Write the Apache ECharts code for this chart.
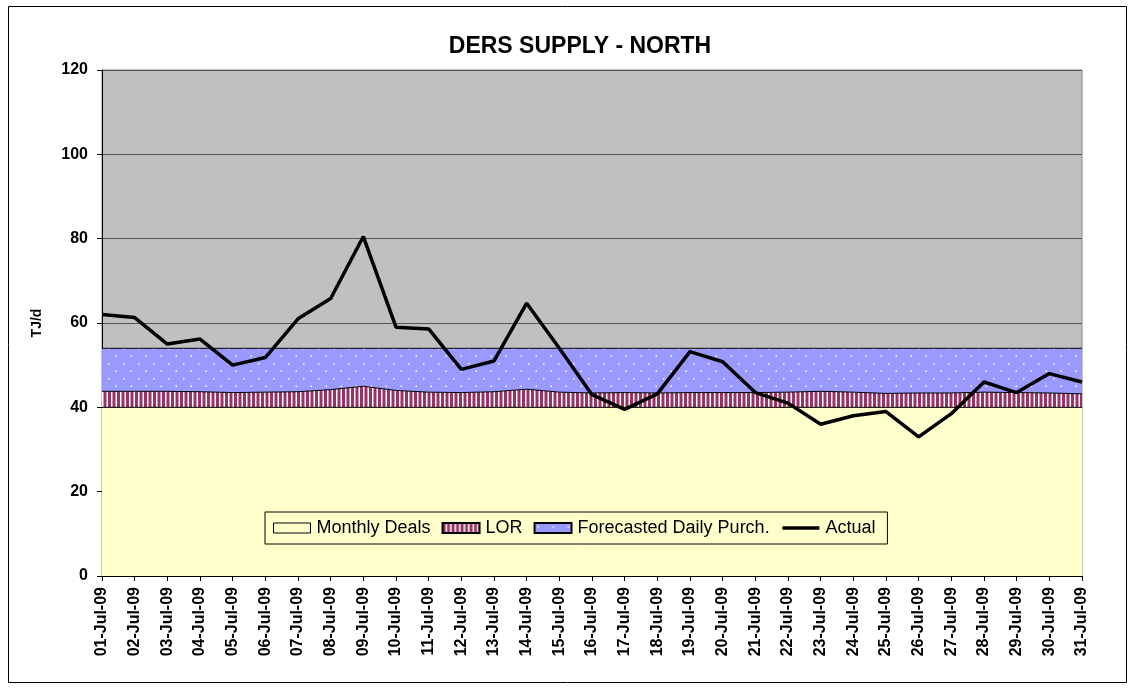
<!DOCTYPE html>
<html>
<head>
<meta charset="utf-8">
<script src="https://cdn.jsdelivr.net/npm/echarts@6/dist/echarts.min.js"></script>
<style>
html, body { margin: 0; padding: 0; background: #fff; }
#main { width: 1135px; height: 690px; }
</style>
</head>
<body>
<div id="main"></div>
<script>
var days = ['01-Jul-09','02-Jul-09','03-Jul-09','04-Jul-09','05-Jul-09','06-Jul-09','07-Jul-09','08-Jul-09',
    '09-Jul-09','10-Jul-09','11-Jul-09','12-Jul-09','13-Jul-09','14-Jul-09','15-Jul-09','16-Jul-09',
    '17-Jul-09','18-Jul-09','19-Jul-09','20-Jul-09','21-Jul-09','22-Jul-09','23-Jul-09','24-Jul-09',
    '25-Jul-09','26-Jul-09','27-Jul-09','28-Jul-09','29-Jul-09','30-Jul-09','31-Jul-09'];
var monthlyDeals = [40,40,40,40,40,40,40,40,40,40,40,40,40,40,40,40,40,40,40,40,40,40,40,40,40,40,40,40,40,40,40];
var lor = [3.8,3.8,3.8,3.7,3.5,3.6,3.7,4.2,5.0,4.0,3.6,3.5,3.7,4.3,3.6,3.4,
    3.5,3.4,3.5,3.5,3.5,3.6,3.8,3.6,3.3,3.4,3.4,3.6,3.5,3.4,3.2];
var forecast = [10.2,10.2,10.2,10.3,10.5,10.4,10.3,9.8,9.0,10.0,10.4,10.5,10.3,9.7,10.4,10.6,
    10.5,10.6,10.5,10.5,10.5,10.4,10.2,10.4,10.7,10.6,10.6,10.4,10.5,10.6,10.8];
var actual = [62,61.3,55,56.2,50,51.8,61,65.8,80.5,59,58.6,49,51,64.7,54,43,
    39.5,43.2,53.2,50.8,43.5,41,36,38,39,33,38.5,46,43.5,48,46];

// stripe pattern for LOR
function stripes() {
    var c = document.createElement('canvas');
    c.width = 9; c.height = 4;
    var g = c.getContext('2d');
    g.fillStyle = '#ffffff'; g.fillRect(0, 0, 9, 4);
    g.fillStyle = '#993366';
    g.fillRect(0, 0, 3, 4);
    g.fillRect(4.5, 0, 3, 4);
    return c;
}
// dotted pattern for forecast
function dots() {
    var c = document.createElement('canvas');
    c.width = 15; c.height = 15;
    var g = c.getContext('2d');
    g.fillStyle = '#9999ff'; g.fillRect(0, 0, 15, 15);
    g.fillStyle = '#ffffff';
    g.fillRect(3, 3, 1.5, 1.5);
    g.fillRect(10.5, 10.5, 1.5, 1.5);
    return c;
}

var myChart = echarts.init(document.getElementById('main'));
var font = 'Liberation Sans, Arial, sans-serif';
var option = {
    animation: false,
    textStyle: { fontFamily: font },
    graphic: [{
        type: 'rect',
        shape: { x: 8.5, y: 6.5, width: 1118, height: 676 },
        style: { fill: 'none', stroke: '#000', lineWidth: 1 },
        z: 100
    }],
    title: {
        text: 'DERS SUPPLY - NORTH',
        left: 575, top: 30, textAlign: 'center',
        textStyle: { fontFamily: font, fontSize: 23, fontWeight: 'bold', color: '#000' }
    },
    legend: {
        left: 265, top: 512,
        width: 660,
        itemGap: 11,
        itemWidth: 37, itemHeight: 10,
        padding: [7, 12, 7, 8],
        backgroundColor: '#ffffcc',
        borderColor: '#000', borderWidth: 1,
        textStyle: { fontFamily: font, fontSize: 18, color: '#000', padding: [0, 0, 0, 1] },
        data: [
            { name: 'Monthly Deals', icon: 'rect', itemStyle: { color: '#ffffcc', borderColor: '#000', borderWidth: 1 } },
            { name: 'LOR', icon: 'rect' },
            { name: 'Forecasted Daily Purch.', icon: 'rect' },
            { name: 'Actual', itemStyle: { opacity: 0 }, lineStyle: { width: 3.5, color: '#000' } }
        ]
    },
    grid: {
        left: 102, right: 53, top: 70, bottom: 114,
        show: true, backgroundColor: '#c0c0c0', borderColor: '#808080', borderWidth: 1
    },
    xAxis: {
        type: 'category',
        data: days,
        boundaryGap: false,
        axisLine: { lineStyle: { color: '#000', width: 1 } },
        axisTick: { show: true, alignWithLabel: true, length: 5, lineStyle: { color: '#000' } },
        axisLabel: { rotate: 90, interval: 0, fontSize: 16, fontWeight: 'bold', color: '#000', fontFamily: font, margin: 11 }
    },
    yAxis: {
        type: 'value',
        min: 0, max: 120, interval: 20,
        name: 'TJ/d',
        nameLocation: 'middle',
        nameGap: 58,
        nameTextStyle: { fontFamily: font, fontSize: 14, fontWeight: 'bold', color: '#000' },
        axisLine: { show: true, lineStyle: { color: '#000', width: 1 } },
        axisTick: { show: true, length: 5, lineStyle: { color: '#000' } },
        axisLabel: { fontSize: 16, fontWeight: 'bold', color: '#000', fontFamily: font, margin: 14 },
        splitLine: { lineStyle: { color: '#555555', width: 1 } }
    },
    series: [
        {
            name: 'Monthly Deals', type: 'line', stack: 'supply', data: monthlyDeals,
            symbol: 'none', lineStyle: { color: '#000', width: 1 },
            itemStyle: { color: '#ffffcc', borderColor: '#000', borderWidth: 1 },
            areaStyle: { color: '#ffffcc', opacity: 1 }
        },
        {
            name: 'LOR', type: 'line', stack: 'supply', data: lor,
            symbol: 'none', lineStyle: { color: '#000', width: 1 },
            itemStyle: { color: { image: stripes(), repeat: 'repeat' }, borderColor: '#000', borderWidth: 1 },
            areaStyle: { color: { image: stripes(), repeat: 'repeat' }, opacity: 1 }
        },
        {
            name: 'Forecasted Daily Purch.', type: 'line', stack: 'supply', data: forecast,
            symbol: 'none', lineStyle: { color: '#000', width: 1 },
            itemStyle: { color: { image: dots(), repeat: 'repeat' }, borderColor: '#000', borderWidth: 1 },
            areaStyle: { color: { image: dots(), repeat: 'repeat' }, opacity: 1 }
        },
        {
            name: 'Actual', type: 'line', data: actual,
            symbol: 'none', z: 5,
            lineStyle: { color: '#000', width: 3.5 },
            itemStyle: { color: '#000' }
        }
    ]
};
myChart.setOption(option);
</script>
</body>
</html>
